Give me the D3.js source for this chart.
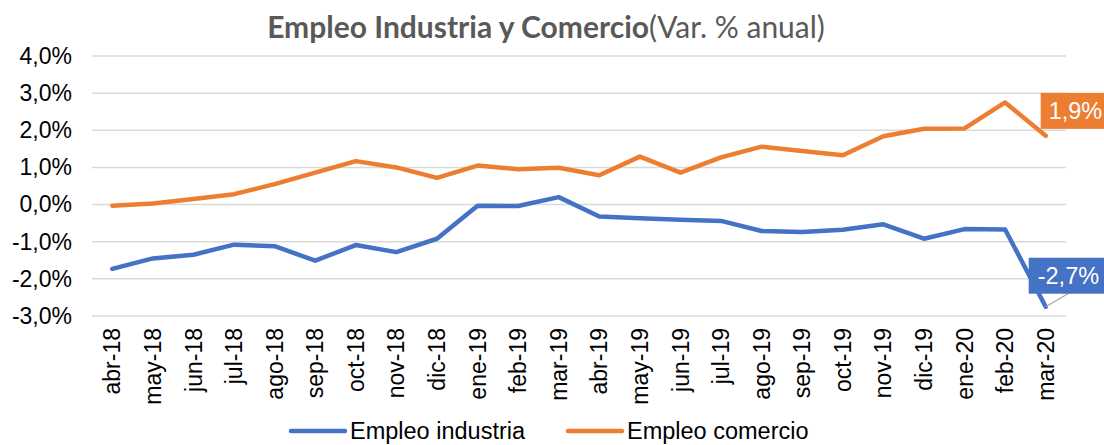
<!DOCTYPE html>
<html>
<head>
<meta charset="utf-8">
<script src="https://cdn.jsdelivr.net/npm/d3@7"></script>
<style>
  body { margin: 0; background: #fff; }
  svg { display: block; font-family: "Liberation Sans", Arial, sans-serif; }
</style>
</head>
<body>
<div id="chart"></div>
<script>
// categories and series (Var. % anual)
const months = ['abr-18', 'may-18', 'jun-18', 'jul-18', 'ago-18', 'sep-18', 'oct-18', 'nov-18', 'dic-18',
  'ene-19', 'feb-19', 'mar-19', 'abr-19', 'may-19', 'jun-19', 'jul-19', 'ago-19', 'sep-19', 'oct-19',
  'nov-19', 'dic-19', 'ene-20', 'feb-20', 'mar-20']
const industria = [-1.73, -1.45, -1.35, -1.08, -1.12, -1.51, -1.09, -1.28, -0.92, -0.03, -0.04, 0.2,
  -0.32, -0.37, -0.41, -0.44, -0.71, -0.74, -0.68, -0.53, -0.92, -0.66, -0.67, -2.75]
const comercio = [-0.03, 0.03, 0.15, 0.28, 0.55, 0.86, 1.17, 1.0, 0.72, 1.05, 0.95, 0.99,
  0.79, 1.29, 0.86, 1.27, 1.56, 1.44, 1.33, 1.84, 2.04, 2.05, 2.75, 1.85]
const yTicks = [-3, -2, -1, 0, 1, 2, 3, 4]
const lastLabels = ['-2,7%', '1,9%']

const fullWidth = 1104,
  fullHeight = 445,
  plotLeft = 92, plotRight = 1066, plotTop = 56, plotBottom = 316

const blue = '#4472C4', orange = '#ED7D31'

const svg = d3.select('#chart')
  .append('svg')
    .attr('width', fullWidth)
    .attr('height', fullHeight)

const xScale = d3.scaleBand().domain(months).range([plotLeft, plotRight])
const yScale = d3.scaleLinear().domain([-3, 4]).range([plotBottom, plotTop])
const xc = m => xScale(m) + xScale.bandwidth() / 2

const loc = d3.formatLocale({ decimal: ',', thousands: '.', grouping: [3], currency: ['', ''], minus: '-' })
const fmt = loc.format('.1f')

// title
const title = svg.append('text')
  .attr('x', 546)
  .attr('y', 38)
  .attr('text-anchor', 'middle')
  .style('font-family', 'Lato, "Open Sans", sans-serif')
  .style('font-size', '30px')
  .attr('fill', '#595959')
title.append('tspan').style('font-weight', 'bold').text('Empleo Industria y Comercio')
title.append('tspan').text('(Var. % anual)')

// gridlines
svg.append('g')
  .selectAll('line')
  .data(yTicks)
  .join('line')
    .attr('x1', plotLeft).attr('x2', plotRight)
    .attr('y1', d => yScale(d)).attr('y2', d => yScale(d))
    .attr('stroke', '#D9D9D9')
    .attr('stroke-width', 1.5)

// y axis
const yAxis = svg.append('g')
  .attr('transform', `translate(${plotLeft}, 0)`)
  .call(d3.axisLeft(yScale).tickValues(yTicks).tickSize(0).tickPadding(20).tickFormat(d => fmt(d) + '%'))
yAxis.select('.domain').remove()
yAxis.selectAll('text')
  .style('font-size', '23px')
  .style('font-family', '"Liberation Sans", Arial, sans-serif')
  .attr('fill', '#000')

// x labels, rotated
svg.append('g')
  .selectAll('text')
  .data(months)
  .join('text')
    .attr('transform', d => `translate(${xc(d)}, 328) rotate(-90)`)
    .attr('text-anchor', 'end')
    .attr('dy', '0.35em')
    .style('font-size', '23px')
    .attr('fill', '#000')
    .text(d => d)

// lines
const line = d3.line()
  .x((d, i) => xc(months[i]))
  .y(d => yScale(d))

const series = [
  { name: 'Empleo industria', values: industria, color: blue },
  { name: 'Empleo comercio', values: comercio, color: orange }
]

svg.append('g')
  .selectAll('path')
  .data(series)
  .join('path')
    .attr('d', d => line(d.values))
    .attr('fill', 'none')
    .attr('stroke', d => d.color)
    .attr('stroke-width', 4.5)
    .attr('stroke-linejoin', 'round')
    .attr('stroke-linecap', 'round')

// data labels on last point
const lastM = months[months.length - 1]
const lx = xc(lastM)
const lyInd = yScale(industria[industria.length - 1])
const lyCom = yScale(comercio[comercio.length - 1])

svg.append('line')
  .attr('x1', lx).attr('y1', lyInd)
  .attr('x2', lx + 23).attr('y2', lyInd - 13.5)
  .attr('stroke', '#A6A6A6')
  .attr('stroke-width', 1.2)

svg.append('rect')
  .attr('x', lx - 17).attr('y', lyInd - 49)
  .attr('width', 90).attr('height', 36)
  .attr('fill', blue)
svg.append('text')
  .attr('x', lx - 8).attr('y', lyInd - 23)
  .style('font-size', '23.5px')
  .attr('fill', '#fff')
  .text(lastLabels[0])

svg.append('rect')
  .attr('x', lx - 5).attr('y', lyCom - 43)
  .attr('width', 90).attr('height', 36)
  .attr('fill', orange)
svg.append('text')
  .attr('x', lx + 3).attr('y', lyCom - 17)
  .style('font-size', '23.5px')
  .attr('fill', '#fff')
  .text(lastLabels[1])

// legend
const legend = svg.append('g')
  .selectAll('g')
  .data(series)
  .join('g')
    .attr('transform', (d, i) => `translate(${i === 0 ? 291 : 568}, 431)`)
legend.append('line')
  .attr('x1', 0).attr('x2', 54)
  .attr('stroke', d => d.color)
  .attr('stroke-width', 4.5)
  .attr('stroke-linecap', 'round')
legend.append('text')
  .attr('x', 59)
  .attr('dy', '0.35em')
  .style('font-size', '23.5px')
  .attr('fill', '#000')
  .text(d => d.name)
</script>
</body>
</html>
